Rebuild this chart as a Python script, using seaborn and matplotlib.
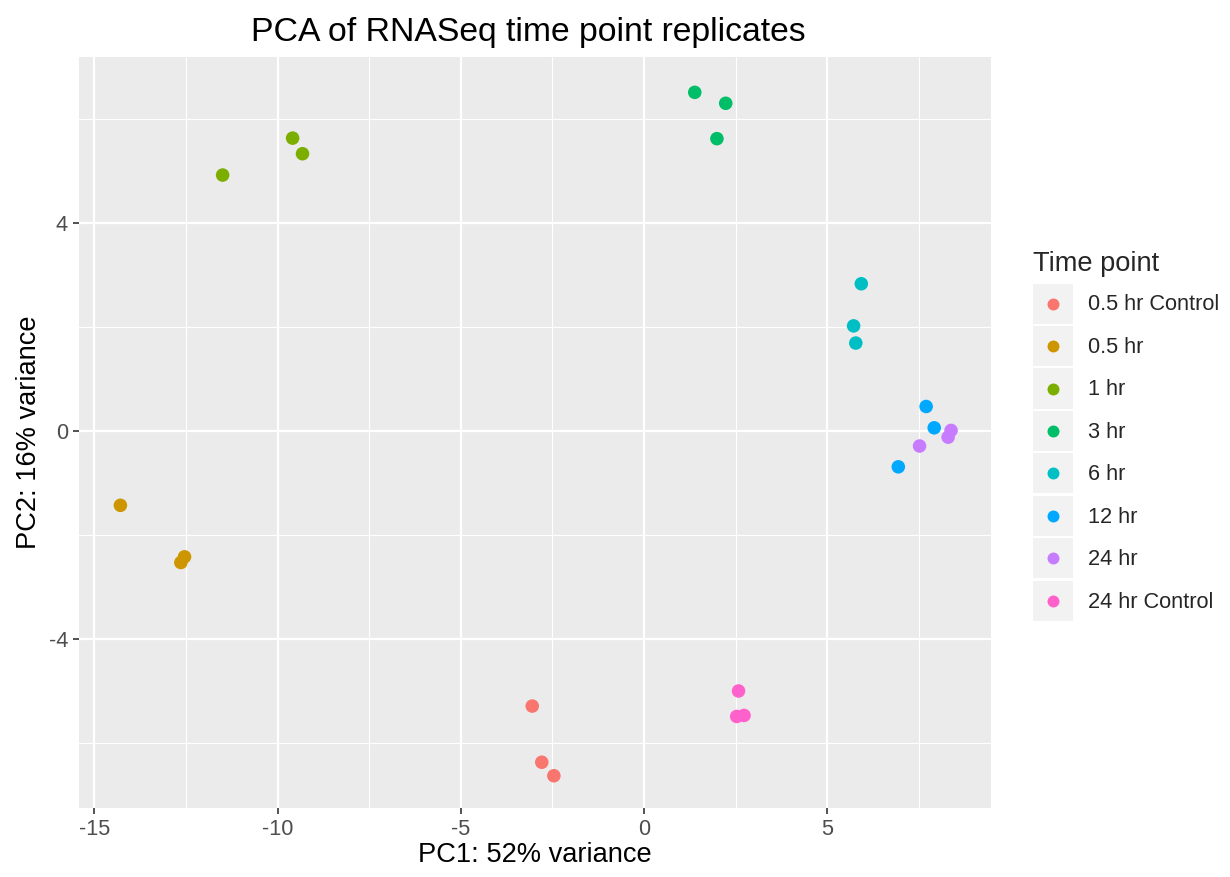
import numpy as np
import pandas as pd
import matplotlib
matplotlib.use("Agg")
import matplotlib.pyplot as plt
import seaborn as sns
from matplotlib.patches import Rectangle
from matplotlib.lines import Line2D
from matplotlib.legend_handler import HandlerBase
from matplotlib.ticker import MultipleLocator

# ---- data ----
groups = ["0.5 hr Control", "0.5 hr", "1 hr", "3 hr", "6 hr", "12 hr", "24 hr", "24 hr Control"]
colors = ["#F8766D", "#CD9600", "#7CAE00", "#00BE67", "#00BFC4", "#00A9FF", "#C77CFF", "#FF61CC"]

pc1_ctrl05 = [-3.05, -2.79, -2.46]
pc2_ctrl05 = [-5.29, -6.37, -6.63]
pc1_05 = [-14.29, -12.54, -12.64]
pc2_05 = [-1.43, -2.42, -2.53]
pc1_1 = [-9.59, -9.32, -11.50]
pc2_1 = [5.63, 5.33, 4.92]
pc1_3 = [1.385, 2.23, 1.99]
pc2_3 = [6.51, 6.30, 5.62]
pc1_6 = [5.93, 5.72, 5.78]
pc2_6 = [2.83, 2.02, 1.69]
pc1_12 = [7.70, 7.92, 6.94]
pc2_12 = [0.47, 0.06, -0.69]
pc1_24 = [8.38, 8.30, 7.52]
pc2_24 = [0.01, -0.12, -0.29]
pc1_ctrl24 = [2.58, 2.73, 2.53]
pc2_ctrl24 = [-5.00, -5.47, -5.49]

pc1_all = [pc1_ctrl05, pc1_05, pc1_1, pc1_3, pc1_6, pc1_12, pc1_24, pc1_ctrl24]
pc2_all = [pc2_ctrl05, pc2_05, pc2_1, pc2_3, pc2_6, pc2_12, pc2_24, pc2_ctrl24]

rows = []
for g, xs, ys in zip(groups, pc1_all, pc2_all):
    for x, y in zip(xs, ys):
        rows.append({"PC1": x, "PC2": y, "Time point": g})
df = pd.DataFrame(rows)

# ---- style ----
sns.set_theme(style="darkgrid")
plt.rcParams["font.family"] = ["Liberation Sans", "DejaVu Sans"]
plt.rcParams["axes.unicode_minus"] = False

fig = plt.figure(figsize=(12.3, 8.77), dpi=100)
ax = fig.add_axes([79/1230, 1-808/877, (991-79)/1230, (808-57)/877])
ax.set_facecolor("#EBEBEB")

sns.scatterplot(data=df, x="PC1", y="PC2", hue="Time point", hue_order=groups,
                palette=colors, s=95, linewidth=0, legend=False, ax=ax, zorder=3)

ax.set_xlim(-15.42, 9.47)
ax.set_ylim(-7.25, 7.19)
ax.xaxis.set_major_locator(MultipleLocator(5))
ax.xaxis.set_minor_locator(MultipleLocator(2.5))
ax.yaxis.set_major_locator(MultipleLocator(4))
ax.yaxis.set_minor_locator(MultipleLocator(2))
ax.grid(which="major", color="white", linewidth=1.6)
ax.grid(which="minor", color="white", linewidth=0.8)
ax.set_axisbelow(True)
for sp in ax.spines.values():
    sp.set_visible(False)
ax.tick_params(which="major", length=4.5, width=1.2, color="#333333",
               labelsize=15.7, labelcolor="#4D4D4D", pad=3.5, bottom=True, left=True)
ax.tick_params(which="minor", length=0)

ax.set_xlabel("PC1: 52% variance", fontsize=19.6, color="black", labelpad=1)
ax.set_ylabel("PC2: 16% variance", fontsize=19.6, color="black", labelpad=5)
ax.set_title("PCA of RNASeq time point replicates", fontsize=24.3, color="black",
             pad=11.5, x=0.493)


class KeyHandler(HandlerBase):
    def create_artists(self, legend, orig_handle, xdescent, ydescent, width, height,
                       fontsize, trans):
        rect = Rectangle((-xdescent, -ydescent), width, height, facecolor="#F2F2F2",
                         edgecolor="none", transform=trans)
        dot = Line2D([width / 2 - xdescent], [height / 2 - ydescent], marker="o",
                     linestyle="", markersize=8.6, markeredgewidth=0,
                     color=orig_handle.get_color(), transform=trans)
        return [rect, dot]


handles = [Line2D([], [], color=c) for c in colors]
leg = fig.legend(handles, groups, handler_map={Line2D: KeyHandler()},
                 loc="upper left", bbox_to_anchor=(1033/1230, 1-251/877),
                 frameon=False, fontsize=15.7, title="Time point", title_fontsize=19.6,
                 handlelength=1.83, handleheight=2.45, labelspacing=0.11,
                 handletextpad=0.7, borderpad=0, borderaxespad=0, alignment="left")
leg._legend_box.sep = 0.11 * 15.7 + 3.0

fig.savefig("out.png", dpi=100)
